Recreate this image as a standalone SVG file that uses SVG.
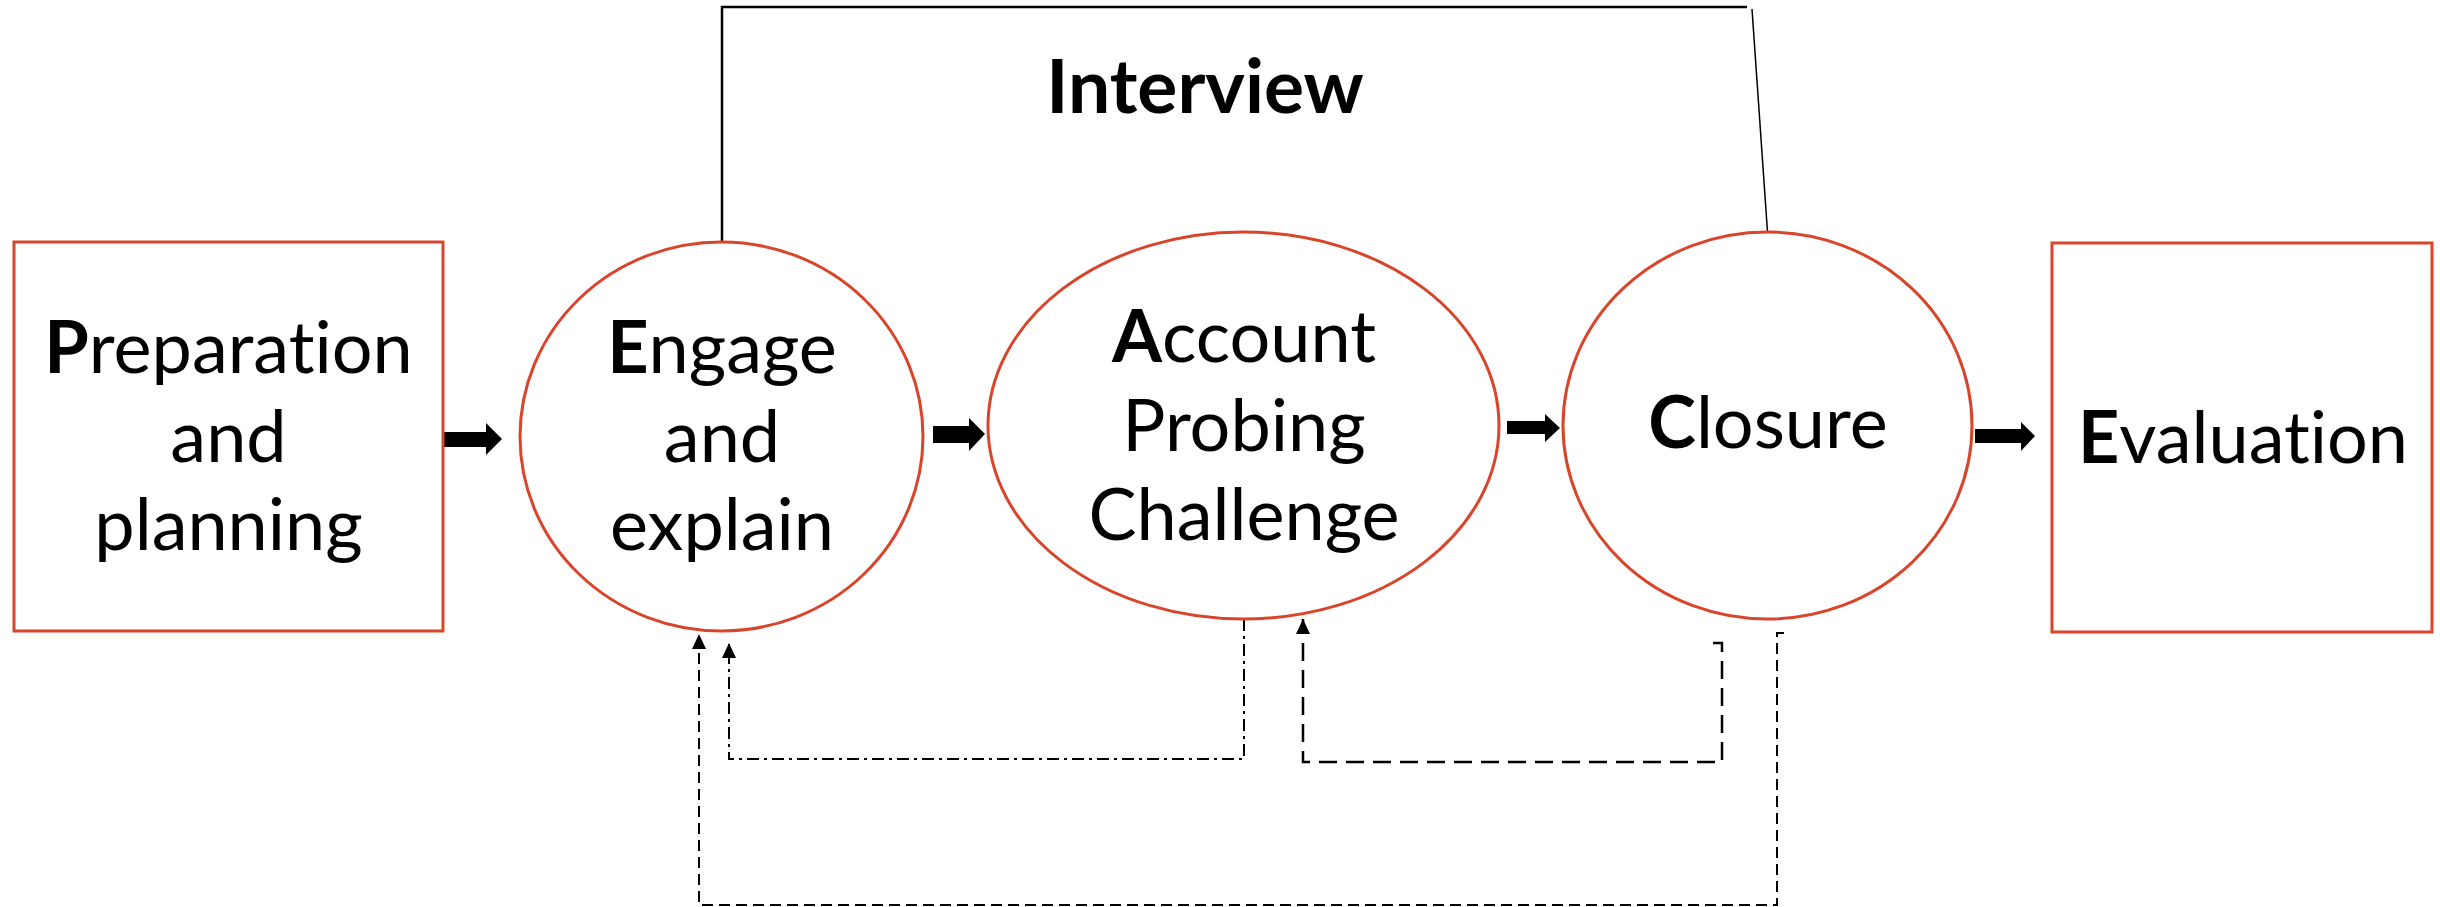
<svg xmlns="http://www.w3.org/2000/svg" width="2440" height="907" viewBox="0 0 2440 907">
<style>
.box{fill:#fff;stroke:#D8452B;stroke-width:3}
.lbl{font-family:Lato,"Liberation Sans",sans-serif;font-size:72px;fill:#000;text-anchor:middle;font-variant-ligatures:none}
.b{font-weight:bold}
.title{font-size:75px}
.solid{fill:none;stroke:#000}
.dd{fill:none;stroke:#000;stroke-width:2;stroke-dasharray:12,5,3,5}
.d1{fill:none;stroke:#000;stroke-width:2.5;stroke-dasharray:18,9}
.d2{fill:none;stroke:#000;stroke-width:2;stroke-dasharray:11,6}
.blk{fill:#000}
</style>
<defs>
<marker id="ah" viewBox="0 0 15 14" refX="15" refY="7" markerWidth="15" markerHeight="14" markerUnits="userSpaceOnUse" orient="auto">
<polygon points="0,0 15,7 0,14" fill="#000"/>
</marker>
</defs>
<g id="connectors">
<polyline class="solid" stroke-width="2.5" points="722,242 722,7 1747,7"/>
<line class="solid" stroke-width="1.5" x1="1752" y1="9" x2="1767.5" y2="232"/>
<polygon class="blk" points="442,432 486,432 486,423 502,439 486,455 486,447 442,447"/>
<polygon class="blk" points="933,426 969,426 969,418 985,434 969,451 969,443 933,443"/>
<polygon class="blk" points="1507,421 1545,421 1545,414 1560,428 1545,442 1545,434 1507,434"/>
<polygon class="blk" points="1975,429 2021,429 2021,422 2035,436 2021,451 2021,443 1975,443"/>
<path class="dd" d="M1244,619 V759 H729 V643" marker-end="url(#ah)"/>
<path class="d1" d="M1713,643 H1722 V762 H1303 V619" marker-end="url(#ah)"/>
<path class="d2" d="M1784,633 H1777 V905 H699 V634" marker-end="url(#ah)"/>
</g>
<text class="lbl b title" x="1205" y="113">Interview</text>
<g id="preparation">
<rect class="box" x="14" y="242" width="429" height="389"/>
<text class="lbl" x="228.5" y="373"><tspan class="b">P</tspan>reparation</text>
<text class="lbl" x="228.5" y="462">and</text>
<text class="lbl" x="228.5" y="550">planning</text>
</g>
<g id="engage">
<ellipse class="box" cx="721.5" cy="436.5" rx="201.5" ry="194.5"/>
<text class="lbl" x="722" y="373"><tspan class="b">E</tspan>ngage</text>
<text class="lbl" x="722" y="462">and</text>
<text class="lbl" x="722" y="550">explain</text>
</g>
<g id="account">
<ellipse class="box" cx="1243.5" cy="425.5" rx="255.5" ry="193.5"/>
<text class="lbl" x="1244" y="362"><tspan class="b">A</tspan>ccount</text>
<text class="lbl" x="1244" y="451">Probing</text>
<text class="lbl" x="1244" y="540">Challenge</text>
</g>
<g id="closure">
<ellipse class="box" cx="1767.5" cy="425.5" rx="204.5" ry="193.5"/>
<text class="lbl" x="1768" y="448"><tspan class="b">C</tspan>losure</text>
</g>
<g id="evaluation">
<rect class="box" x="2052" y="243" width="380" height="389"/>
<text class="lbl" x="2243" y="463"><tspan class="b">E</tspan>valuation</text>
</g>
</svg>
